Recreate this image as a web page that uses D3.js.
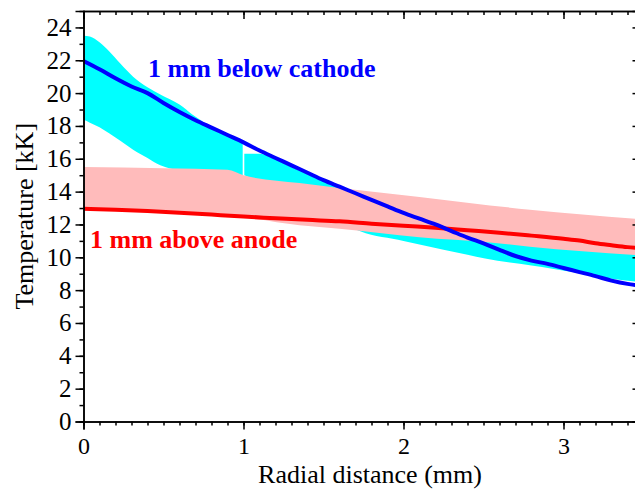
<!DOCTYPE html>
<html>
<head>
<meta charset="utf-8">
<script src="https://cdn.jsdelivr.net/npm/d3@7/dist/d3.min.js"></script>
<style>
  html, body { margin: 0; padding: 0; background: #fff; }
  svg { display: block; }
  .axis path, .axis line { stroke: #000; stroke-width: 1.5; }
  .axis text { font-family: "Liberation Serif", "Times New Roman", serif; fill: #000; }
</style>
</head>
<body>
<svg id="chart" width="635" height="489"></svg>
<script>
// Radial temperature profiles (kK) with uncertainty bands
const cathodeR = [0, 0.1, 0.2, 0.3, 0.4, 0.5, 0.6, 0.7, 0.8, 0.9, 1.0, 1.1, 1.2, 1.3, 1.4, 1.5, 1.6, 1.7, 1.8, 1.9, 2.0, 2.1, 2.2, 2.3, 2.4, 2.5, 2.6, 2.7, 2.8, 2.9, 3.0, 3.1, 3.2, 3.3, 3.4, 3.48];
const cathodeT = [21.95, 21.45, 20.9, 20.4, 20.0, 19.4, 18.85, 18.35, 17.9, 17.45, 17.0, 16.5, 16.05, 15.6, 15.15, 14.7, 14.3, 13.9, 13.5, 13.1, 12.7, 12.35, 12.0, 11.6, 11.2, 10.85, 10.45, 10.08, 9.8, 9.6, 9.35, 9.1, 8.85, 8.58, 8.38, 8.28];

const anodeR = [0, 0.2, 0.4, 0.6, 0.8, 1.0, 1.2, 1.4, 1.6, 1.8, 2.0, 2.2, 2.4, 2.6, 2.8, 3.0, 3.1, 3.2, 3.3, 3.4, 3.48];
const anodeT = [12.95, 12.9, 12.82, 12.72, 12.6, 12.48, 12.38, 12.28, 12.19, 12.05, 11.92, 11.8, 11.65, 11.5, 11.32, 11.13, 11.02, 10.85, 10.73, 10.62, 10.56];

// Anode band
const anodeBandR  = [0, 0.5, 0.9, 1.0, 1.35, 1.6, 2.1, 2.54, 2.79, 3.48];
const anodeBandHi = [15.5, 15.42, 15.33, 15.0, 14.52, 14.22, 13.67, 13.16, 12.9, 12.32];
const anodeBandLo = [12.9, 12.7, 12.5, 12.42, 11.95, 11.74, 11.22, 10.9, 10.65, 10.12];

// Cathode band, inner segment (r < 1 mm)
const cathodeBandInR  = [0, 0.04, 0.1, 0.16, 0.23, 0.31, 0.4, 0.48, 0.6, 0.68, 0.8, 0.9, 0.995];
const cathodeBandInHi = [23.5, 23.45, 23.1, 22.55, 21.8, 21.0, 20.35, 19.91, 19.3, 18.7, 17.95, 17.48, 17.0];
const cathodeBandInLo = [18.37, 18.2, 17.92, 17.55, 17.1, 16.55, 16.05, 15.6, 15.3, 15.25, 15.2, 15.1, 14.95];

// Cathode band, outer segment (r > 1 mm)
const cathodeBandOutR  = [1.005, 1.1, 1.2, 1.3, 1.6, 1.73, 2.0, 2.1, 2.4, 2.51, 2.8, 2.93, 3.1, 3.3, 3.48];
const cathodeBandOutHi = [16.3, 16.3, 15.95, 15.5, 14.25, 13.7, 12.65, 12.3, 11.5, 11.3, 11.0, 10.9, 10.75, 10.6, 10.45];
const cathodeBandOutLo = [15.0, 14.55, 14.1, 13.6, 12.2, 11.58, 11.0, 10.78, 10.15, 9.92, 9.5, 9.31, 9.04, 8.7, 8.5];

const xMajor = [0, 1, 2, 3];
const yMajor = d3.range(0, 25, 2);

const svg = d3.select("#chart");
const padL = 83.5, padR = 640.5, padT = 11, padB = 421.5;

const x = d3.scaleLinear().domain([0, (padR - padL) / 160]).range([padL, padR]);
const y = d3.scaleLinear().domain([0, 25]).range([padB, padT]);

svg.append("defs").append("clipPath").attr("id", "plotClip")
  .append("rect").attr("x", padL).attr("y", padT).attr("width", padR - padL).attr("height", padB - padT);

const plot = svg.append("g").attr("clip-path", "url(#plotClip)");

function band(rs, lo, hi) {
  return d3.area().curve(d3.curveMonotoneX)
    .x((d, i) => x(rs[i])).y0((d, i) => y(lo[i])).y1((d, i) => y(hi[i]))(rs);
}
function line(rs, ts) {
  return d3.line().curve(d3.curveMonotoneX).x((d, i) => x(rs[i])).y((d, i) => y(ts[i]))(rs);
}

plot.append("path").attr("d", band(cathodeBandInR, cathodeBandInLo, cathodeBandInHi)).attr("fill", "#00ffff");
plot.append("path").attr("d", band(cathodeBandOutR, cathodeBandOutLo, cathodeBandOutHi)).attr("fill", "#00ffff");
plot.append("path").attr("d", band(anodeBandR, anodeBandLo, anodeBandHi)).attr("fill", "#ffbbbb");

plot.append("path").attr("d", line(anodeR, anodeT)).attr("fill", "none").attr("stroke", "#ff0000").attr("stroke-width", 4);
plot.append("path").attr("d", line(cathodeR, cathodeT)).attr("fill", "none").attr("stroke", "#0000ff").attr("stroke-width", 4);

// Axes
const xMinor = d3.range(0, 35).map(i => i / 10).filter(v => x(v) <= padR);
const yMinor = d3.range(0, 25);

svg.append("g").attr("class", "axis").attr("transform", `translate(0,${padB})`)
  .call(d3.axisBottom(x).tickValues(xMinor).tickSize(4).tickFormat(""));
svg.append("g").attr("class", "axis").attr("transform", `translate(0,${padB})`)
  .call(d3.axisBottom(x).tickValues(xMajor).tickSize(8).tickPadding(7.5).tickFormat(d3.format("d")))
  .call(g => g.selectAll("text").attr("font-size", 24));

svg.append("g").attr("class", "axis").attr("transform", `translate(0,${padT})`)
  .call(d3.axisBottom(x).tickValues(xMinor).tickSize(4).tickFormat(""));
svg.append("g").attr("class", "axis").attr("transform", `translate(0,${padT})`)
  .call(d3.axisBottom(x).tickValues(xMajor).tickSize(8).tickFormat(""));

svg.append("g").attr("class", "axis").attr("transform", `translate(${padL},0)`)
  .call(d3.axisLeft(y).tickValues(yMinor).tickSize(4).tickFormat(""));
svg.append("g").attr("class", "axis").attr("transform", `translate(${padL},0)`)
  .call(d3.axisLeft(y).tickValues(yMajor).tickSize(8).tickPadding(4).tickFormat(d3.format("d")))
  .call(g => g.selectAll("text").attr("font-size", 25));

svg.append("g").attr("class", "axis").attr("transform", `translate(${padR},0)`)
  .call(d3.axisLeft(y).tickValues(yMinor).tickSize(4).tickFormat(""));
svg.append("g").attr("class", "axis").attr("transform", `translate(${padR},0)`)
  .call(d3.axisLeft(y).tickValues(yMajor).tickSize(8).tickFormat(""));

svg.selectAll(".axis path.domain").attr("stroke-width", 1.7);

// Titles
const serif = "'Liberation Serif', 'Times New Roman', serif";
svg.append("text").attr("x", 370).attr("y", 483).attr("text-anchor", "middle")
  .attr("font-family", serif).attr("font-size", 26).text("Radial distance (mm)");
svg.append("text").attr("transform", `translate(33,${(padT + padB) / 2}) rotate(-90)`)
  .attr("text-anchor", "middle").attr("font-family", serif).attr("font-size", 26).text("Temperature [kK]");

// Curve labels
svg.append("text").attr("x", 148).attr("y", 77).attr("font-family", serif).attr("font-weight", "bold")
  .attr("font-size", 26).attr("fill", "#0000ff").text("1 mm below cathode");
svg.append("text").attr("x", 90).attr("y", 248).attr("font-family", serif).attr("font-weight", "bold")
  .attr("font-size", 26).attr("fill", "#ff0000").text("1 mm above anode");
</script>
</body>
</html>
